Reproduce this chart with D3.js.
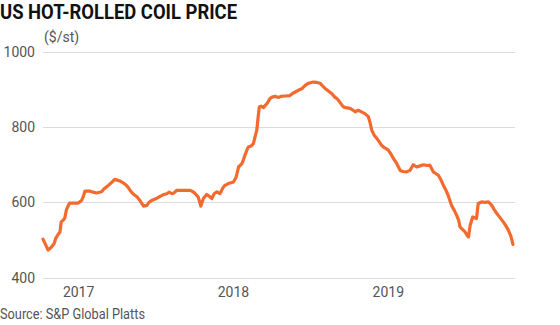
<!DOCTYPE html>
<html><head><meta charset="utf-8">
<script src="https://cdn.jsdelivr.net/npm/d3@7"></script>
<style>
body{margin:0;background:#fff;}
svg{display:block;}
text{font-family:Roboto,"Noto Sans",sans-serif;}
</style></head>
<body>
<script>
const title = "US HOT-ROLLED COIL PRICE";
const unitLabel = "($/st)";
const sourceText = "Source: S&P Global Platts";
const yTicks = [400, 600, 800, 1000];
const xTickYears = ["2017", "2018", "2019"];
const dates = [
"2016-10-09","2016-10-14","2016-10-21","2016-10-28","2016-11-04","2016-11-08","2016-11-14","2016-11-18","2016-11-21","2016-11-25",
"2016-11-29","2016-12-03","2016-12-07","2016-12-11","2016-12-21","2016-12-31","2017-01-08","2017-01-12","2017-01-16","2017-01-27",
"2017-02-04","2017-02-12","2017-02-24","2017-03-02","2017-03-12","2017-03-19","2017-03-27","2017-04-02","2017-04-08","2017-04-16",
"2017-04-24","2017-04-30","2017-05-05","2017-05-12","2017-05-19","2017-05-26","2017-06-03","2017-06-11","2017-06-16","2017-06-22",
"2017-07-03","2017-07-12","2017-07-19","2017-07-28","2017-08-02","2017-08-09","2017-08-14","2017-08-20","2017-09-04","2017-09-21",
"2017-09-28","2017-10-03","2017-10-10","2017-10-16","2017-10-22","2017-10-30","2017-11-05","2017-11-11","2017-11-16","2017-11-23",
"2017-11-30","2017-12-08","2017-12-12","2017-12-20","2017-12-26","2018-01-01","2018-01-07","2018-01-13","2018-01-21","2018-01-24",
"2018-01-28","2018-02-02","2018-02-05","2018-02-12","2018-02-17","2018-02-21","2018-02-25","2018-02-28","2018-03-03","2018-03-07",
"2018-03-13","2018-03-17","2018-03-21","2018-03-24","2018-03-28","2018-04-02","2018-04-09","2018-04-17","2018-04-23","2018-05-03",
"2018-05-14","2018-05-22","2018-05-29","2018-06-03","2018-06-11","2018-06-19","2018-06-27","2018-07-08","2018-07-17","2018-07-24",
"2018-07-29","2018-08-05","2018-08-12","2018-08-21","2018-08-28","2018-09-02","2018-09-09","2018-09-17","2018-09-23","2018-10-03",
"2018-10-10","2018-10-15","2018-10-22","2018-10-31","2018-11-07","2018-11-15","2018-11-19","2018-11-23","2018-11-28","2018-12-05",
"2018-12-10","2018-12-16","2018-12-22","2019-01-01","2019-01-07","2019-01-13","2019-01-21","2019-01-25","2019-01-29","2019-02-05",
"2019-02-13","2019-02-21","2019-03-01","2019-03-09","2019-03-17","2019-03-25","2019-04-02","2019-04-09","2019-04-17","2019-04-21",
"2019-04-29","2019-05-05","2019-05-11","2019-05-17","2019-05-22","2019-05-30","2019-06-05","2019-06-11","2019-06-16","2019-06-19",
"2019-06-26","2019-07-01","2019-07-06","2019-07-09","2019-07-13","2019-07-19","2019-07-28","2019-08-01","2019-08-09","2019-08-17",
"2019-08-25","2019-09-02","2019-09-07","2019-09-14","2019-09-21","2019-09-29","2019-10-05","2019-10-11","2019-10-17","2019-10-22"
];
const prices = [
502,490,473,480,490,504,515,521,548,552,
557,579,590,598,598,598,605,615,630,630,
627,625,628,636,645,652,661,659,657,652,
645,636,628,620,614,604,590,592,600,605,
610,616,620,623,627,623,625,632,632,632,
628,623,614,590,610,621,616,610,622,628,
623,640,645,650,652,654,666,694,703,712,
725,740,747,750,756,775,792,825,854,856,
852,858,863,868,876,880,882,879,882,883,
884,891,895,898,902,911,917,920,919,917,
911,903,897,889,880,876,866,854,852,850,
845,841,845,840,836,828,812,792,780,770,
762,752,746,739,729,717,703,694,685,682,
681,685,700,694,697,700,698,699,681,678,
672,660,645,632,619,592,580,566,552,535,
527,521,512,508,539,561,557,597,601,600,
601,592,582,570,560,548,538,526,510,488
];

const W = 560, H = 325;
const svg = d3.select("body").append("svg").attr("width", W).attr("height", H);
const parse = d3.timeParse("%Y-%m-%d");
const data = dates.map((d, i) => ({date: parse(d), value: prices[i]}));

const x = d3.scaleTime().domain(d3.extent(data, d => d.date)).range([43, 513]);
const y = d3.scaleLinear().domain([400, 1000]).range([277.5, 52]);

// title
svg.append("text").attr("x", 0).attr("y", 18.5)
  .attr("font-size", 21).attr("font-weight", 700).attr("fill", "#111")
  .attr("textLength", 237).attr("lengthAdjust", "spacingAndGlyphs")
  .text(title);

// gridlines
svg.append("g").selectAll("line").data(yTicks).join("line")
  .attr("x1", 43).attr("x2", 515)
  .attr("y1", d => Math.round(y(d)) + 0.5).attr("y2", d => Math.round(y(d)) + 0.5)
  .attr("stroke", "#dcdcdc").attr("stroke-width", 1.2);

// y labels
svg.append("g").selectAll("text").data(yTicks).join("text")
  .attr("x", 35).attr("y", d => y(d) + 5)
  .attr("text-anchor", "end").attr("font-size", 14).attr("fill", "#555")
  .text(d => d);

svg.append("text").attr("x", 44).attr("y", 42)
  .attr("font-size", 14).attr("fill", "#555").text(unitLabel);

// x labels
svg.append("g").selectAll("text").data(xTickYears).join("text")
  .attr("x", d => x(parse(d + "-01-01"))).attr("y", 297)
  .attr("text-anchor", "middle").attr("font-size", 14).attr("fill", "#555")
  .text(d => d);

// line
const line = d3.line().x(d => x(d.date)).y(d => y(d.value));
svg.append("path").datum(data).attr("d", line)
  .attr("fill", "none").attr("stroke", "#f26a2e").attr("stroke-width", 3.2)
  .attr("stroke-linejoin", "round").attr("stroke-linecap", "round");

// source
svg.append("text").attr("x", 0).attr("y", 319)
  .attr("font-size", 14).attr("fill", "#555")
  .attr("textLength", 145).attr("lengthAdjust", "spacingAndGlyphs")
  .text(sourceText);
</script>
</body></html>
